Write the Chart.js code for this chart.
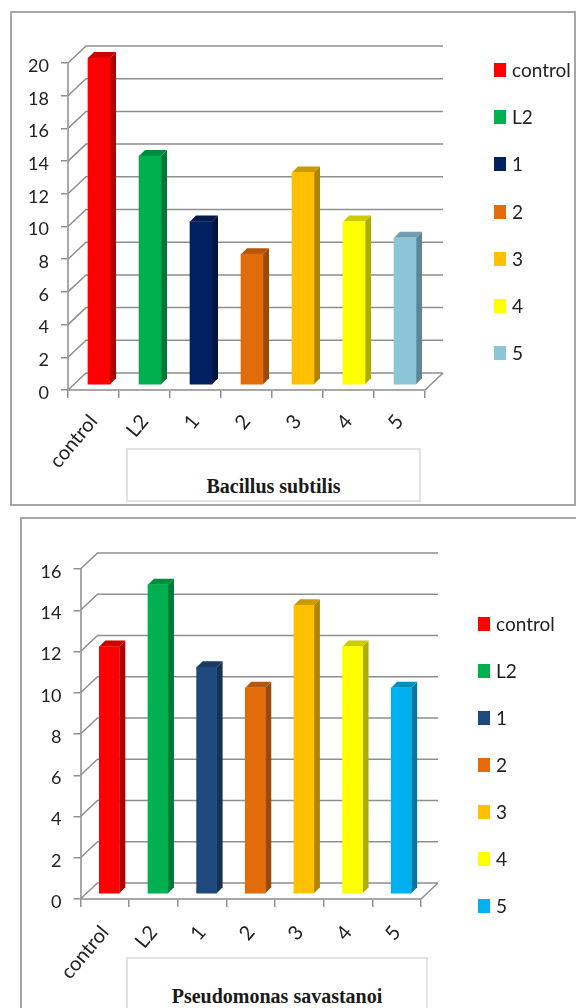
<!DOCTYPE html>
<html>
<head>
<meta charset="utf-8">
<title>Bacillus subtilis / Pseudomonas savastanoi</title>
<script src="https://cdn.jsdelivr.net/npm/chart.js@4"></script>
<style>
  html, body { margin: 0; padding: 0; background: #fff; }
  body { position: relative; width: 576px; height: 1008px; overflow: hidden; font-family: Lato, sans-serif; }
  .frame { position: absolute; box-sizing: border-box; border: 2px solid #a6a6a6; }
  .plot { position: absolute; left: 0; }
  .title-box {
    position: absolute; box-sizing: border-box; border: 2px solid #e2e2e2; background: #fff;
    font: bold 20px/24px "Liberation Serif", serif; color: #1a1a1a; text-align: center;
  }
  .key { position: absolute; font-size: 19px; line-height: 20px; color: #222; white-space: nowrap; }
  .key i { position: absolute; top: 3px; left: -18px; width: 12px; height: 14px; }
</style>
</head>
<body>
<div class="frame" style="left:10px;top:11px;width:566px;height:495px"></div>
<div class="frame" style="left:20px;top:517px;width:560px;height:500px"></div>
<canvas id="bacillus" class="plot" width="576" height="504" style="top:0"></canvas>
<canvas id="pseudomonas" class="plot" width="576" height="504" style="top:504px"></canvas>
<div class="title-box" style="left:126px;top:448px;width:295px;height:54px;padding-top:24px">Bacillus subtilis</div>
<div class="title-box" style="left:126px;top:957px;width:302px;height:60px;padding-top:25px">Pseudomonas savastanoi</div>
<div id="keys"></div>

<script>
const categories = ['control', 'L2', '1', '2', '3', '4', '5'];

const bacillusValues = [20, 14, 10, 8, 13, 10, 9];
const bacillusColors = ['#ff0000', '#00b050', '#002060', '#e36c0a', '#ffc000', '#ffff00', '#8cc4d8'];
const bacillusTicks = [0, 2, 4, 6, 8, 10, 12, 14, 16, 18, 20];

const pseudomonasValues = [12, 15, 11, 10, 14, 12, 10];
const pseudomonasColors = ['#ff0000', '#00b050', '#1f497d', '#e36c0a', '#ffc000', '#ffff00', '#00b0f0'];
const pseudomonasTicks = [0, 2, 4, 6, 8, 10, 12, 14, 16];

const GRID = '#8f8f8f';
const AXIS = '#a8a8a8';

function shade(hex, f) {
    const n = parseInt(hex.slice(1), 16);
    const c = [n >> 16, (n >> 8) & 255, n & 255].map(v => Math.round(v * f));
    return `rgb(${c[0]},${c[1]},${c[2]})`;
}

// fake 3D look of the old Excel charts: back wall, floor and bar side faces
const wall3d = {
    id: 'wall3d',
    beforeDatasetsDraw(chart, args, o) {
        const { ctx, chartArea: a, scales: { y } } = chart;
        ctx.save();
        ctx.strokeStyle = GRID;
        ctx.lineWidth = 1.5;
        ctx.beginPath();
        y.ticks.forEach(t => {
            const py = y.getPixelForValue(t.value);
            ctx.moveTo(a.left, py);
            ctx.lineTo(a.left + o.dx, py - o.dy);
            ctx.lineTo(a.right + o.dx, py - o.dy);
        });
        ctx.moveTo(a.right, a.bottom);
        ctx.lineTo(a.right + o.dx, a.bottom - o.dy);
        ctx.stroke();
        ctx.restore();
    },
    beforeDatasetDraw(chart, args, o) {
        const { ctx } = chart;
        const colors = chart.data.datasets[args.index].backgroundColor;
        ctx.save();
        ctx.translate(o.barDx, -o.barDy);
        args.meta.data.forEach((bar, i) => {
            const r = bar.x + bar.width / 2, l = bar.x - bar.width / 2;
            ctx.fillStyle = shade(colors[i], 0.68);
            ctx.beginPath();
            ctx.moveTo(r, bar.y);
            ctx.lineTo(r + o.side, bar.y - o.side);
            ctx.lineTo(r + o.side, bar.base - o.side);
            ctx.lineTo(r, bar.base);
            ctx.closePath();
            ctx.fill();
            ctx.fillStyle = shade(colors[i], 0.8);
            ctx.beginPath();
            ctx.moveTo(l, bar.y);
            ctx.lineTo(l + o.side, bar.y - o.side);
            ctx.lineTo(r + o.side, bar.y - o.side);
            ctx.lineTo(r, bar.y);
            ctx.closePath();
            ctx.fill();
        });
    },
    afterDatasetDraw(chart) {
        chart.ctx.restore();
    }
};

function drawPanel(id, values, colors, ticks, box) {
    return new Chart(document.getElementById(id), {
        type: 'bar',
        plugins: [wall3d],
        data: {
            labels: categories,
            datasets: [{
                data: values,
                backgroundColor: colors,
                barThickness: box.barWidth,
                clip: false
            }]
        },
        options: {
            responsive: false,
            animation: false,
            layout: { padding: { top: box.top, right: 576 - box.right, left: 0, bottom: 0 } },
            plugins: {
                legend: { display: false },
                tooltip: { enabled: false },
                wall3d: box.depth
            },
            scales: {
                x: {
                    afterFit: s => { s.height = 504 - box.bottom; },
                    border: { color: AXIS, width: 2 },
                    grid: { drawOnChartArea: false, tickLength: 8, color: GRID, lineWidth: 1.5 },
                    ticks: {
                        color: '#222', font: { family: 'Lato', size: 20 },
                        minRotation: 50, maxRotation: 50, padding: box.xPad
                    }
                },
                y: {
                    min: ticks[0],
                    max: ticks[ticks.length - 1],
                    afterFit: s => { s.width = box.left; },
                    afterBuildTicks: s => { s.ticks = ticks.map(v => ({ value: v })); },
                    border: { color: AXIS, width: 2 },
                    grid: { drawOnChartArea: false, tickLength: 7, color: GRID, lineWidth: 1.5 },
                    ticks: { color: '#222', font: { family: 'Lato', size: 18 }, padding: 12, labelOffset: 3 }
                }
            }
        }
    });
}

function drawKeys(colors, left, top, step) {
    const holder = document.getElementById('keys');
    categories.forEach((name, i) => {
        const el = document.createElement('div');
        el.className = 'key';
        el.style.left = left + 'px';
        el.style.top = (top + i * step) + 'px';
        el.innerHTML = `<i style="background:${colors[i]}"></i>${name}`;
        holder.appendChild(el);
    });
}

drawPanel('bacillus', bacillusValues, bacillusColors, bacillusTicks, {
    left: 68, right: 425, top: 63, bottom: 390, barWidth: 22, xPad: 12,
    depth: { dx: 18, dy: 17, barDx: 5.5, barDy: 5, side: 6 }
});
drawPanel('pseudomonas', pseudomonasValues, pseudomonasColors, pseudomonasTicks, {
    left: 80.5, right: 421, top: 65, bottom: 395, barWidth: 20, xPad: 14,
    depth: { dx: 17, dy: 16, barDx: 4.5, barDy: 5, side: 6 }
});
drawKeys(bacillusColors, 512, 60, 47.2);
drawKeys(pseudomonasColors, 496, 614, 47);
</script>
</body>
</html>
